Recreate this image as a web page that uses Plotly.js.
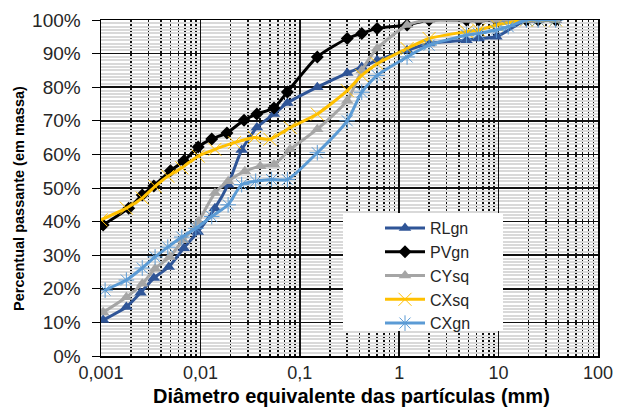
<!DOCTYPE html>
<html>
<head>
<meta charset="utf-8">
<script src="https://cdn.plot.ly/plotly-3.0.1.min.js"></script>
<style>html,body{margin:0;padding:0;background:#fff;}#chart{width:624px;height:408px;}</style>
</head>
<body>
<div id="chart"></div>
<script>
// Diameters (mm) and percent passing for each sample
const rlgnD = [0.00105, 0.0018, 0.0025, 0.0034, 0.0048, 0.0068, 0.0094, 0.014, 0.019, 0.026, 0.037, 0.055, 0.075, 0.15, 0.3, 0.42, 0.6, 1.2, 2.0, 4.75, 6.3, 9.5, 19, 25, 37.5];
const rlgnP = [10.7, 14.6, 18.8, 23.2, 26.5, 32.1, 36.9, 44, 51, 61.3, 68, 72, 75.3, 80, 84.2, 86, 88, 91, 93, 94, 94.5, 95, 100, 100, 100];

const pvgnD = [0.00105, 0.0019, 0.0026, 0.0034, 0.005, 0.0068, 0.0095, 0.013, 0.0185, 0.0275, 0.037, 0.055, 0.075, 0.15, 0.3, 0.42, 0.6, 1.2, 2.0, 4.75, 6.3, 9.5, 19, 25, 37.5];
const pvgnP = [39, 44, 47.9, 50.6, 55.1, 58, 62.2, 64.6, 66.4, 70.2, 72, 73.8, 78.6, 89, 94.5, 96, 97.5, 98.5, 100, 100, 100, 100, 100, 100, 100];

const cysqD = [0.00105, 0.0018, 0.0026, 0.0035, 0.0049, 0.0067, 0.0095, 0.014, 0.019, 0.028, 0.04, 0.055, 0.08, 0.15, 0.3, 0.42, 0.6, 1.2, 2.0, 4.75, 6.3, 9.5, 19, 25, 37.5];
const cysqP = [13, 17.5, 21.5, 26, 29.5, 34.5, 40, 48.5, 52, 55, 56.5, 57, 61.5, 67.5, 76, 85, 91.5, 98.5, 100, 100, 100, 100, 100, 100, 100];

const cxsqD = [0.001, 0.0018, 0.0026, 0.0035, 0.0047, 0.0065, 0.0095, 0.014, 0.022, 0.035, 0.05, 0.08, 0.15, 0.3, 0.42, 0.6, 1.2, 2.0, 4.75, 6.3, 9.5, 19, 25, 37.5];
const cxsqP = [40.5, 44, 47, 50.5, 53.5, 56, 59.5, 61.5, 63.5, 65, 64.5, 68, 72, 79, 83.5, 87, 91.5, 94.5, 96.5, 97, 98.5, 100, 100, 100];

const cxgnD = [0.0011, 0.0018, 0.0026, 0.0035, 0.0047, 0.0065, 0.009, 0.013, 0.019, 0.026, 0.036, 0.052, 0.075, 0.15, 0.3, 0.42, 0.6, 1.2, 2.0, 4.75, 6.3, 9.5, 12.5, 19, 25, 37.5];
const cxgnP = [19.6, 22.6, 26.2, 29.5, 32.4, 35.4, 38, 41.5, 45, 51, 52, 52.5, 52.5, 60.5, 70, 78.5, 83.5, 89, 92.5, 95.5, 96, 97, 98, 100, 100, 100];

const xTickVals = [0.001, 0.01, 0.1, 1, 10, 100];
const xTickText = ['0,001', '0,01', '0,1', '1', '10', '100'];

const names = ['RLgn', 'PVgn', 'CYsq', 'CXsq', 'CXgn'];
const xTitle = 'Diâmetro equivalente das partículas (mm)';
const yTitle = 'Percentual passante (em massa)';

const pct = a => a.map(v => v / 100);
const FONT = 'Liberation Sans, Arial, sans-serif';

function tr(name, d, p, color, symbol, size, mline) {
  return {
    type: 'scatter', mode: 'lines+markers', name: name,
    x: d, y: pct(p),
    line: {color: color, width: 3, shape: 'spline', smoothing: 0.6},
    marker: {symbol: symbol, size: size, color: color, line: {color: color, width: mline}}
  };
}

const data = [
  tr(names[0], rlgnD, rlgnP, '#2F5597', 'triangle-up', 11, 0),
  tr(names[1], pvgnD, pvgnP, '#000000', 'diamond', 10, 0),
  tr(names[2], cysqD, cysqP, '#A5A5A5', 'triangle-up', 11, 0),
  tr(names[3], cxsqD, cxsqP, '#FFC000', 'x-thin-open', 13, 1),
  tr(names[4], cxgnD, cxgnP, '#5B9BD5', 'asterisk-open', 13, 1)
];

// plot area in pixels: x 101..598, y 20..356
const W = 497, H = 336;
const px = v => (v - 101) / W;
const py = v => (356 - v) / H;

const layout = {
  width: 624, height: 408,
  margin: {l: 101, r: 26, t: 20, b: 52},
  paper_bgcolor: '#ffffff', plot_bgcolor: '#ffffff',
  font: {family: FONT, size: 19, color: '#262626'},
  showlegend: true,
  legend: {
    x: px(380), y: py(211), xanchor: 'left', yanchor: 'top',
    bgcolor: 'rgba(0,0,0,0)', borderwidth: 0,
    font: {family: FONT, size: 16, color: '#262626'},
    itemwidth: 40
  },
  shapes: [{
    type: 'rect', xref: 'paper', yref: 'paper', layer: 'above',
    x0: px(343), x1: px(503), y0: py(331), y1: py(213),
    fillcolor: '#ffffff', line: {width: 0}
  }],
  annotations: [
    {text: xTitle, xref: 'paper', yref: 'paper', x: px(351), y: py(396.5),
     xanchor: 'center', yanchor: 'middle', showarrow: false,
     font: {family: FONT, size: 20, color: '#000', weight: 'bold'}},
    {text: yTitle, xref: 'paper', yref: 'paper', x: px(19), y: py(199),
     xanchor: 'center', yanchor: 'middle', showarrow: false, textangle: -90,
     font: {family: FONT, size: 14.5, color: '#000', weight: 'bold'}}
  ],
  xaxis: {
    type: 'log', range: [-3, 2],
    tickvals: xTickVals, ticktext: xTickText,
    ticks: '', ticklen: 0,
    showgrid: true, gridcolor: '#111', gridwidth: 1.6,
    minor: {dtick: 'D1', showgrid: true, gridcolor: '#111', gridwidth: 1.6, ticks: ''},
    showline: true, linecolor: '#000', linewidth: 1.5, mirror: true,
    zeroline: false,
    tickfont: {family: FONT, size: 18, color: '#262626'},
    automargin: false
  },
  yaxis: {
    range: [0, 1], dtick: 0.1, tickformat: '.0%',
    ticks: 'outside', ticklen: 8, tickcolor: '#000', tickwidth: 1,
    ticklabelstandoff: 7,
    showgrid: true, gridcolor: '#111', gridwidth: 1.6,
    minor: {dtick: 0.01, showgrid: true, gridcolor: '#d9d9d9', gridwidth: 2, ticks: ''},
    showline: true, linecolor: '#000', linewidth: 1.5, mirror: true,
    zeroline: false,
    tickfont: {family: FONT, size: 19, color: '#262626'},
    automargin: false
  }
};

Plotly.newPlot('chart', data, layout, {displayModeBar: false, staticPlot: true});
</script>
</body>
</html>
